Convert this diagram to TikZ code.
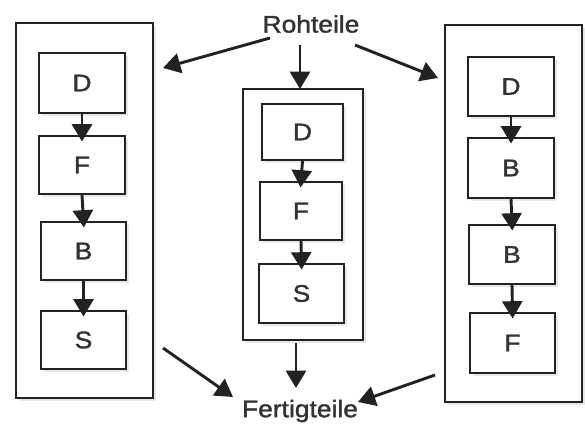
\documentclass[tikz,border=0pt]{standalone}
\usepackage{fontspec}
\newfontfamily\labfont[FakeStretch=1.1,FakeBold=1.5]{Liberation Sans}
\usetikzlibrary{arrows.meta,shadows}
\definecolor{ink}{HTML}{222222}
\definecolor{txt}{HTML}{333333}
\begin{document}
\begin{tikzpicture}[x=0.75pt,y=-0.75pt,
  outerbox/.style={draw=ink,line width=1.6pt,fill=white,inner sep=0pt,
    drop shadow={shadow xshift=2pt,shadow yshift=-2pt,opacity=0.18}},
  stepbox/.style={draw=ink,line width=1.7pt,fill=white,inner sep=0pt,
    font=\labfont\fontsize{18}{21}\selectfont,text=txt,
    drop shadow={shadow xshift=2pt,shadow yshift=-2pt,opacity=0.18}},
  lbl/.style={font=\labfont\fontsize{18}{21}\selectfont,text=txt,inner sep=1pt},
  arr/.style={draw=ink,line width=2.2pt,-{Triangle[width=15pt,length=13pt]}},
  inarr/.style={arr,shorten >=-5pt}]
\useasboundingbox (0,0) rectangle (585,427);
% left column
\node[outerbox,minimum width=137*0.75pt,minimum height=375*0.75pt] (lo) at (84.5,210.5) {};
\node[stepbox,minimum width=86*0.75pt,minimum height=60*0.75pt] (ld) at (82,83) {D};
\node[stepbox,minimum width=86*0.75pt,minimum height=58*0.75pt] (lf) at (82,165) {F};
\node[stepbox,minimum width=85*0.75pt,minimum height=58*0.75pt] (lb) at (83.5,251) {B};
\node[stepbox,minimum width=85*0.75pt,minimum height=58*0.75pt] (ls) at (83.5,340) {S};
% middle column
\node[outerbox,minimum width=120*0.75pt,minimum height=251*0.75pt] (mo) at (303,214.5) {};
\node[stepbox,minimum width=81*0.75pt,minimum height=56*0.75pt] (md) at (302.5,132) {D};
\node[stepbox,minimum width=82*0.75pt,minimum height=58*0.75pt] (mf) at (301,211) {F};
\node[stepbox,minimum width=85*0.75pt,minimum height=59*0.75pt] (ms) at (301.5,293.5) {S};
% right column
\node[outerbox,minimum width=137*0.75pt,minimum height=377*0.75pt] (ro) at (513.5,213.5) {};
\node[stepbox,minimum width=86*0.75pt,minimum height=59*0.75pt] (rd) at (511,86.5) {D};
\node[stepbox,minimum width=86*0.75pt,minimum height=60*0.75pt] (rb1) at (511,168) {B};
\node[stepbox,minimum width=86*0.75pt,minimum height=59*0.75pt] (rb2) at (512,254.5) {B};
\node[stepbox,minimum width=85*0.75pt,minimum height=60*0.75pt] (rf) at (512.5,343) {F};
% labels
\node[lbl] (rt) at (311,24) {Rohteile};
\node[lbl] (ft) at (300,411) {Fertigteile};
% inner arrows
\draw[inarr] (ld.south) -- (lf.north);
\draw[inarr] (lf.south) -- (lb.north);
\draw[inarr] (lb.south) -- (ls.north);
\draw[inarr] (md.south) -- (mf.north);
\draw[inarr] (mf.south) -- (ms.north);
\draw[inarr] (rd.south) -- (rb1.north);
\draw[inarr] (rb1.south) -- (rb2.north);
\draw[inarr] (rb2.south) -- (rf.north);
% outer arrows
\coordinate (a1s) at (270,38);  \coordinate (a1e) at (163,68);
\coordinate (a2s) at (300,45);  \coordinate (a2e) at (300,89);
\coordinate (a3s) at (355,45);  \coordinate (a3e) at (438,78);
\coordinate (b1s) at (163,348); \coordinate (b1e) at (233,397);
\coordinate (b2s) at (296,343); \coordinate (b2e) at (296,388);
\coordinate (b3s) at (435,375); \coordinate (b3e) at (358,402);
\draw[arr] (a1s) -- (a1e);
\draw[arr] (a2s) -- (a2e);
\draw[arr] (a3s) -- (a3e);
\draw[arr] (b1s) -- (b1e);
\draw[arr] (b2s) -- (b2e);
\draw[arr] (b3s) -- (b3e);
\end{tikzpicture}
\end{document}
